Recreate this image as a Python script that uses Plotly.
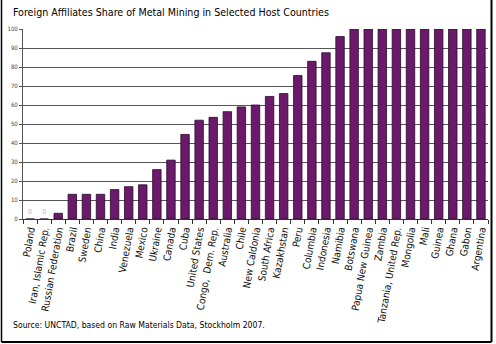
import plotly.graph_objects as go

countries = ["Poland", "Iran, Islamic Rep.", "Russian Federation", "Brazil", "Sweden", "China",
             "India", "Venezuela", "Mexico", "Ukraine", "Canada", "Cuba", "United States",
             "Congo,  Dem. Rep.", "Australia", "Chile", "New Caldonia", "South Africa",
             "Kazakhstan", "Peru", "Columbia", "Indonesia", "Namibia", "Botswana",
             "Papua New Guinea", "Zambia", "Tanzania, United Rep.", "Mongolia", "Mali",
             "Guinea", "Ghana", "Gabon", "Argentina"]
shares = [0, 0, 3, 13, 13, 13, 15.5, 17, 18, 26, 31, 44.5, 52, 53.5, 56.5, 59, 60, 64.5,
          66, 75.5, 83, 87.5, 96, 100, 100, 100, 100, 100, 100, 100, 100, 100, 100]
yticks = list(range(0, 101, 10))

W, H = 496, 344
L, R, T, B = 23, 8, 29, 125
FONT = "DejaVu Sans Condensed, Liberation Sans Narrow, Arial Narrow, sans-serif"

fig = go.Figure()
fig.add_trace(go.Bar(
    x=countries, y=shares,
    marker=dict(color="#6b1a6b", line=dict(color="#2a0a2a", width=0.8)),
    text=["0" if v == 0 else "" for v in shares],
    textposition="outside",
    textfont=dict(color="#b8b8b8", size=7, family=FONT),
    cliponaxis=False,
))

pw, ph = W - L - R, H - T - B
def px_x(x):
    return (x - L) / pw
def px_y(y):
    return (H - B - y) / ph

fig.update_layout(
    width=W, height=H,
    margin=dict(l=L, r=R, t=T, b=B),
    paper_bgcolor="white", plot_bgcolor="white",
    bargap=0.4,
    showlegend=False,
    font=dict(family=FONT, color="black"),
    xaxis=dict(
        tickangle=-80, tickfont=dict(size=10, family=FONT, color="#111"),
        showline=True, linecolor="#333", linewidth=1,
        ticks="outside", ticklen=4, tickcolor="#333", tickson="boundaries",
        showgrid=False,
    ),
    yaxis=dict(
        range=[0, 100], tickvals=yticks,
        tickfont=dict(size=6, family=FONT, color="#444"),
        showgrid=True, gridcolor="#555", gridwidth=1,
        showline=True, linecolor="#555", linewidth=1,
        ticks="outside", ticklen=3, tickcolor="#555",
        zeroline=False,
    ),
    annotations=[
        dict(text="Foreign Affiliates Share of Metal Mining in Selected Host Countries",
             xref="paper", yref="paper", x=px_x(11), y=px_y(12), xanchor="left", yanchor="middle",
             showarrow=False, font=dict(size=10.6, family=FONT, color="black")),
        dict(text="Source: UNCTAD, based on Raw Materials Data, Stockholm 2007.",
             xref="paper", yref="paper", x=px_x(11), y=px_y(325), xanchor="left", yanchor="middle",
             showarrow=False, font=dict(size=8.6, family=FONT, color="black")),
    ],
    shapes=[
        dict(type="line", xref="paper", yref="paper", x0=px_x(1.5), x1=px_x(1.5), y0=px_y(0), y1=px_y(342),
             line=dict(color="black", width=1.5)),
        dict(type="line", xref="paper", yref="paper", x0=px_x(491.5), x1=px_x(491.5), y0=px_y(0), y1=px_y(342),
             line=dict(color="black", width=2)),
        dict(type="line", xref="paper", yref="paper", x0=px_x(1.5), x1=px_x(491.5), y0=px_y(342), y1=px_y(342),
             line=dict(color="black", width=2)),
    ],
)

fig.write_html("out.html")
